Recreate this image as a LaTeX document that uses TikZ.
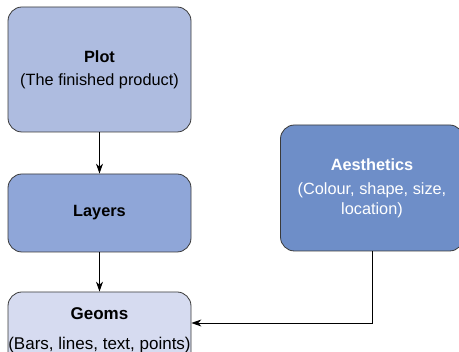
\documentclass[tikz,border=0pt]{standalone}
\usepackage{fontspec}
\setmainfont{Liberation Sans}
\usetikzlibrary{arrows.meta}
\definecolor{plotfill}{HTML}{AEBCE0}
\definecolor{layerfill}{HTML}{8FA6D8}
\definecolor{geomfill}{HTML}{D6DBF0}
\definecolor{aesfill}{HTML}{6E8EC8}
\definecolor{edgegray}{HTML}{3A3A3A}
\tikzset{
  box/.style={draw=edgegray, line width=0.8pt, rounded corners=14pt,
    minimum width=183pt, align=center, inner sep=0pt,
    font=\fontsize{16.3}{19}\selectfont},
  conn/.style={draw=black, line width=0.8pt, -{Stealth[length=10pt,width=7pt]}},
}
\begin{document}
\begin{tikzpicture}[x=1pt,y=-1pt]
\useasboundingbox (0,0) rectangle (459,352);
\node[box, fill=plotfill, minimum height=125pt] (plot) at (99.5,69.5)
  {\textbf{Plot}\\[4pt](The finished product)};
\node[box, fill=layerfill, minimum height=78pt] (layers) at (99.5,213)
  {\textbf{Layers}};
\node[box, fill=geomfill, minimum height=76pt, font=\fontsize{17}{20}\selectfont] (geoms) at (99.5,330)
  {\textbf{Geoms}\\[10pt](Bars, lines, text, points)};
\node[box, fill=aesfill, minimum height=126pt, text=white] (aes) at (372,188)
  {\textbf{Aesthetics}\\[5pt](Colour, shape, size,\\[1pt]location)};
\draw[conn] (plot.south) -- (layers.north);
\draw[conn] (layers.south) -- (geoms.north);
\draw[conn] (aes.south) |- ([yshift=7pt]geoms.east);
\end{tikzpicture}
\end{document}
